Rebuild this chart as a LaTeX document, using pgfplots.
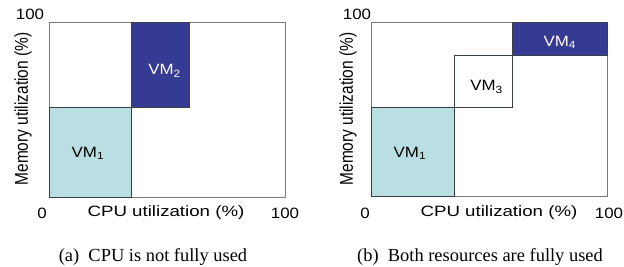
\documentclass[border=0pt]{standalone}
\usepackage{fontspec}
\setmainfont{Liberation Serif}
\newfontfamily\hv{Liberation Sans}
\usepackage{pgfplots}
\pgfplotsset{compat=1.18}
\definecolor{vmlight}{HTML}{BADFE2}
\definecolor{vmdark}{HTML}{353A92}
\definecolor{framegray}{HTML}{7A7A7A}
\definecolor{edgegray}{HTML}{3A3F44}
\tikzset{
  vmbox/.style={draw=edgegray, line width=0.8pt},
  vmlab/.style={font=\hv\fontsize{15}{18}\selectfont},
  tl/.style={font=\hv\fontsize{15}{18}\selectfont, inner sep=0pt},
  yl/.style={font=\hv\fontsize{15.5}{18}\selectfont, inner sep=0pt, rotate=90},
  captxt/.style={font=\fontsize{18.5}{21}\selectfont, inner sep=0pt},
}
\pgfplotsset{
  vmaxis/.style={
    scale only axis, xmin=0, xmax=100, ymin=0, ymax=100,
    xtick=\empty, ytick=\empty,
    axis line style={framegray, line width=0.9pt},
    clip=false,
  },
}
\newcommand{\W}[1]{\scalebox{1.13}[1]{#1}}
\newcommand{\VM}[1]{\W{VM\textsubscript{#1}}}
\newcommand{\XL}{\scalebox{1.25}[1]{CPU utilization (\%)}}
\newcommand{\YL}{\scalebox{1}[1.2]{Memory utilization (\%)}}
\begin{document}
\begin{tikzpicture}
\path[use as bounding box] (0bp,0bp) rectangle (624bp,-267bp);
% ---------- panel (a)
\begin{axis}[vmaxis, at={(49bp,-197bp)}, anchor=south west, width=236bp, height=175bp]
\addplot[vmbox, fill=vmlight] coordinates {(0,0) (35,0) (35,51) (0,51) (0,0)};
\addplot[vmbox, fill=vmdark] coordinates {(35,51) (59.7,51) (59.7,100) (35,100) (35,51)};
\node[vmlab] at (axis cs:16.5,25) {\VM{1}};
\node[vmlab, text=white] at (axis cs:49,72) {\VM{2}};
\end{axis}
% ---------- panel (b)
\begin{axis}[vmaxis, at={(371bp,-196.7bp)}, anchor=south west, width=236bp, height=174bp]
\addplot[vmbox, fill=vmlight] coordinates {(0,0) (35.3,0) (35.3,51.4) (0,51.4) (0,0)};
\addplot[vmbox, fill=white] coordinates {(35.3,51.4) (59.8,51.4) (59.8,81.4) (35.3,81.4) (35.3,51.4)};
\addplot[vmbox, fill=vmdark] coordinates {(59.8,81.4) (100,81.4) (100,100) (59.8,100) (59.8,81.4)};
\node[vmlab] at (axis cs:16.5,25) {\VM{1}};
\node[vmlab] at (axis cs:49,63) {\VM{3}};
\node[vmlab, text=white] at (axis cs:80,88.5) {\VM{4}};
\end{axis}
% ---------- tick texts and axis labels
\node[tl] at (30bp,-14bp) {\W{100}};
\node[tl] at (42bp,-213bp) {\W{0}};
\node[tl] at (285bp,-213bp) {\W{100}};
\node[tl] at (166bp,-213bp) {\XL};
\node[yl] at (23bp,-109bp) {\YL};
\node[tl] at (357bp,-14bp) {\W{100}};
\node[tl] at (365bp,-213bp) {\W{0}};
\node[tl] at (609bp,-213bp) {\W{100}};
\node[tl] at (499bp,-213bp) {\XL};
\node[yl] at (348bp,-109bp) {\YL};
% ---------- captions
\node[captxt] at (153bp,-257bp) {(a)\ \ CPU is not fully used};
\node[captxt] at (480bp,-257bp) {(b)\ \ Both resources are fully used};
\end{tikzpicture}
\end{document}
